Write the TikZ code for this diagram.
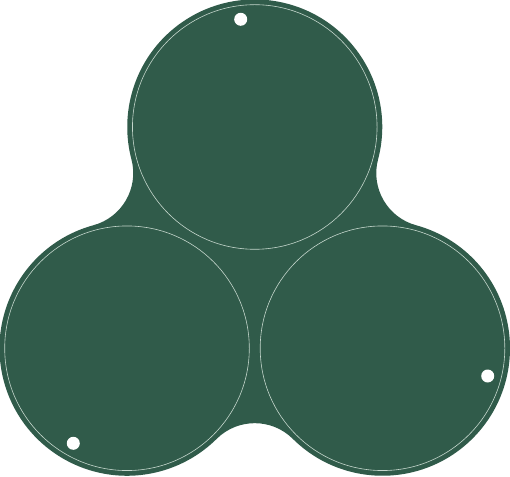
\documentclass[tikz,border=0pt]{standalone}
\usetikzlibrary{calc}
\definecolor{boardgreen}{RGB}{48,91,74}
\definecolor{ringline}{RGB}{196,214,204}
\tikzset{
  board/.style={fill=boardgreen},
  ring/.style={draw=ringline,line width=0.6pt},
  hole/.style={fill=white}
}
\begin{document}
\begin{tikzpicture}[x=1pt,y=1pt]
\useasboundingbox (0,0) rectangle (510,476);
\coordinate (A) at (254.75,349);
\coordinate (B) at (127,127.75);
\coordinate (C) at (382.5,127.75);
% outer board outline: three circles joined by concave fillets
\fill[board] (B) ++(105.26:127.5)
  arc[start angle=105.26,end angle=314.74,radius=127.5]
  arc[start angle=134.74,end angle=45.26,radius=54]
  arc[start angle=225.26,end angle=434.74,radius=127.5]
  arc[start angle=254.74,end angle=165.26,radius=54]
  arc[start angle=-14.74,end angle=194.74,radius=127.5]
  arc[start angle=14.74,end angle=-74.74,radius=54]
  -- cycle;
% thin inner rings
\draw[ring] (A) circle[radius=122.3];
\draw[ring] (B) circle[radius=122.3];
\draw[ring] (C) circle[radius=122.3];
% mounting holes
\fill[hole] (240.7,456.7) circle[radius=6.5];
\fill[hole] (73.3,32.7) circle[radius=6.5];
\fill[hole] (487.7,100) circle[radius=6.5];
\end{tikzpicture}
\end{document}
